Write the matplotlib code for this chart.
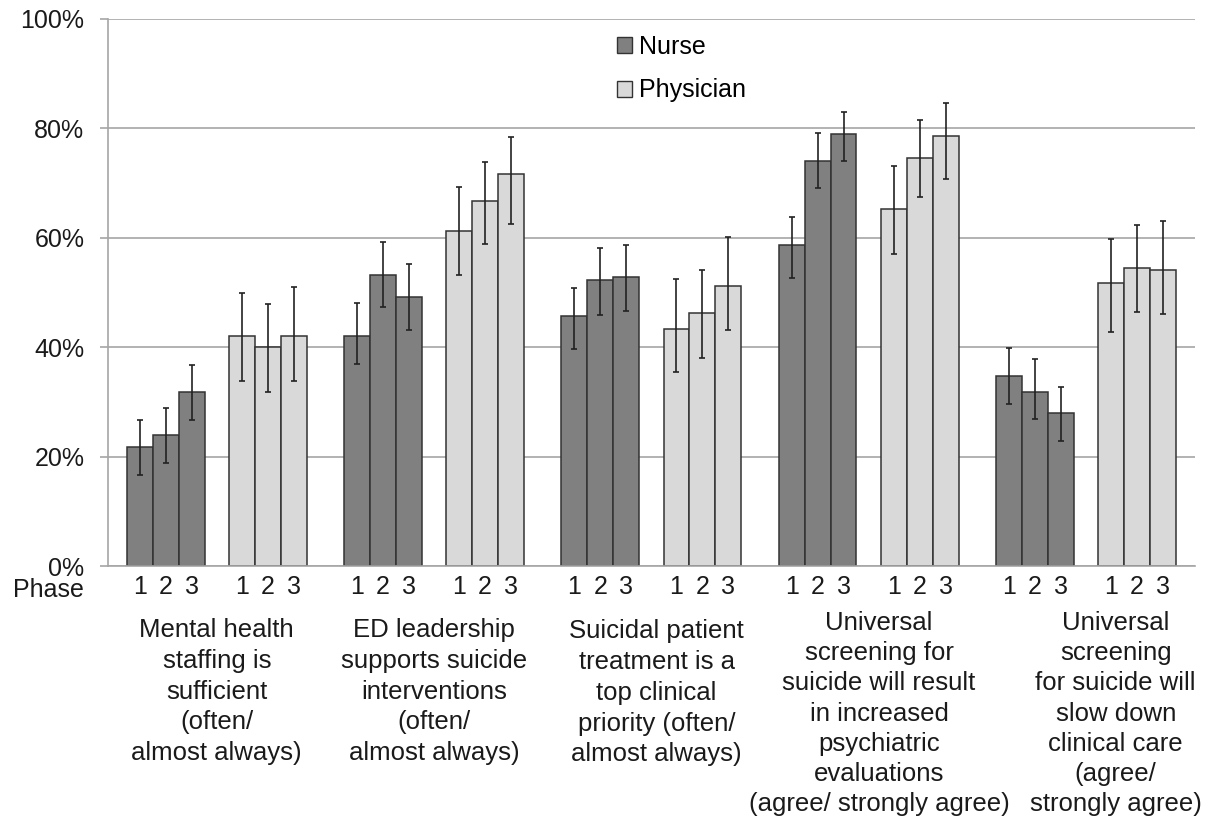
import numpy as np
import matplotlib
matplotlib.use("Agg")
import matplotlib.pyplot as plt
from matplotlib.patches import Patch

plt.rcParams['font.family'] = ['Liberation Sans', 'DejaVu Sans']

# survey items (x axis categories)
categories = [
    "Mental health\nstaffing is\nsufficient\n(often/\nalmost always)",
    "ED leadership\nsupports suicide\ninterventions\n(often/\nalmost always)",
    "Suicidal patient\ntreatment is a\ntop clinical\npriority (often/\nalmost always)",
    "Universal\nscreening for\nsuicide will result\nin increased\npsychiatric\nevaluations\n(agree/ strongly agree)",
    "Universal\nscreening\nfor suicide will\nslow down\nclinical care\n(agree/\nstrongly agree)",
]
phases = ["1", "2", "3"]
groups = ["Nurse", "Physician"]

# percent values per category, phases 1-3
nurse = [[21.7, 23.9, 31.8], [42.0, 53.2, 49.2], [45.7, 52.2, 52.8],
         [58.7, 74.0, 78.9], [34.8, 31.8, 27.9]]
nurse_lo = [[16.6, 18.9, 26.7], [36.9, 47.3, 43.2], [39.7, 45.9, 46.7],
            [52.7, 69.1, 74.0], [29.7, 26.8, 22.8]]
nurse_hi = [[26.6, 28.8, 36.7], [48.0, 59.3, 55.2], [50.8, 58.2, 58.7],
            [63.8, 79.1, 83.0], [39.8, 37.8, 32.8]]

physician = [[42.0, 40.0, 42.0], [61.3, 66.8, 71.6], [43.4, 46.2, 51.1],
             [65.2, 74.5, 78.7], [51.8, 54.4, 54.1]]
physician_lo = [[33.9, 31.9, 33.9], [53.2, 58.8, 62.5], [35.4, 38.1, 43.2],
                [57.1, 67.4, 70.7], [42.7, 46.4, 46.0]]
physician_hi = [[50.0, 47.9, 51.0], [69.3, 73.9, 78.5], [52.4, 54.2, 60.1],
                [73.1, 81.5, 84.7], [59.8, 62.4, 63.1]]

colors = ["#808080", "#d9d9d9"]

# spacing (bar width = 1)
CAT = 8.39
PROF = 3.94
label_shift = [0.0, 0.0, 0.2, 0.4, 1.15]
label_top = [-0.095, -0.095, -0.097, -0.082, -0.082]
label_ls = [1.36, 1.36, 1.36, 1.33, 1.33]

fig = plt.figure(figsize=(12.08, 8.19), dpi=100)
ax = fig.add_axes([108/1208, 1 - 566/819, (1195-108)/1208, (566-19)/819])

vals = [nurse, physician]
los = [nurse_lo, physician_lo]
his = [nurse_hi, physician_hi]

tick_pos = []
tick_lab = []
for c in range(len(categories)):
    for p in range(2):
        x = c*CAT + p*PROF + np.arange(3)
        v = np.array(vals[p][c])
        yerr = [v - np.array(los[p][c]), np.array(his[p][c]) - v]
        ax.bar(x, v, width=1, align='edge', color=colors[p],
               edgecolor='#333333', linewidth=1.1, zorder=2)
        ax.errorbar(x + 0.5, v, yerr=yerr, fmt='none', ecolor='#222222',
                    elinewidth=1.2, capsize=2, capthick=1.2, zorder=3)
        tick_pos.extend(x + 0.5)
        tick_lab.extend(phases)
    ax.text(c*CAT + (PROF + 3)/2 + label_shift[c], label_top[c], categories[c],
            transform=ax.get_xaxis_transform(), ha='center', va='top',
            fontsize=18.5, color='#1a1a1a', linespacing=label_ls[c])

ax.set_xlim(-0.73, 41.24)
ax.set_ylim(0, 100)
ax.set_yticks(np.arange(0, 101, 20))
ax.set_yticklabels([f"{t}%" for t in range(0, 101, 20)])
ax.set_xticks(tick_pos)
ax.set_xticklabels(tick_lab)
ax.tick_params(axis='x', length=0, pad=6.5, labelsize=18, labelcolor='#1a1a1a')
ax.tick_params(axis='y', length=6, color='#a6a6a6', width=1.2, pad=11,
               labelsize=18, labelcolor='#1a1a1a')
ax.grid(axis='y', color='#a6a6a6', linewidth=1.2, zorder=0)
ax.set_axisbelow(True)
for s in ['top', 'right']:
    ax.spines[s].set_visible(False)
for s in ['left', 'bottom']:
    ax.spines[s].set_color('#a6a6a6')
    ax.spines[s].set_linewidth(1.2)

fig.text(84/1208, 1 - 590/819, "Phase", ha='right', va='center',
         fontsize=18, color='#1a1a1a')

handles = [Patch(facecolor=colors[i], edgecolor='#333333', label=groups[i])
           for i in range(2)]
ax.legend(handles=handles, loc='upper left', bbox_to_anchor=(0.4474, 1.012),
          frameon=False, fontsize=18, handlelength=0.6, handleheight=0.6,
          handletextpad=0.3, labelspacing=0.78)

fig.savefig("out.png", dpi=100)
